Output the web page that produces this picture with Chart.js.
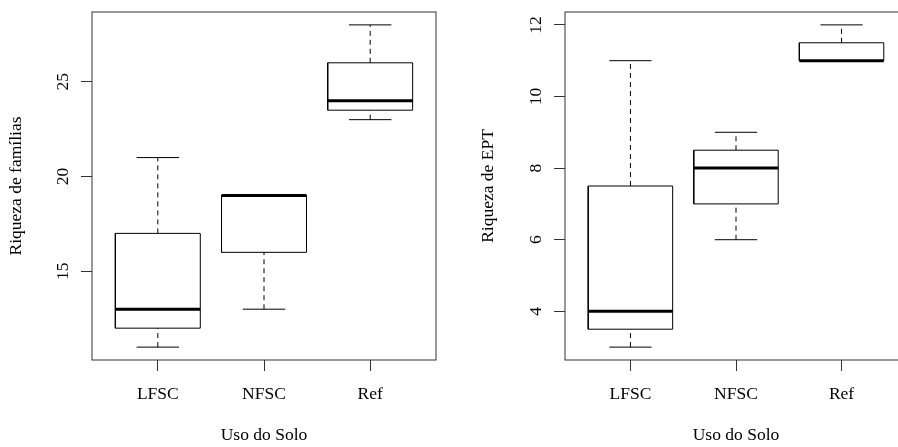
<!DOCTYPE html>
<html><head><meta charset="utf-8">
<script src="https://cdn.jsdelivr.net/npm/chart.js@4/dist/chart.umd.min.js"></script>
<style>
html,body{margin:0;padding:0;background:#fff;overflow:hidden;width:898px;height:447px;}
#c1{position:absolute;left:0;top:0;}
#c2{position:absolute;left:449px;top:0;}
</style></head><body>
<canvas id="c1" width="449" height="447"></canvas>
<canvas id="c2" width="460" height="447"></canvas>
<script>
// ---- data ----
const categories = ['LFSC', 'NFSC', 'Ref'];
const xTicks = [1, 2, 3];
const xLabel = 'Uso do Solo';

// Panel 1: Riqueza de famílias
const yLabelFam = 'Riqueza de famílias';
const famMin    = [11, 13, 23];
const famQ1     = [12, 16, 23.5];
const famMedian = [13, 19, 24];
const famQ3     = [17, 19, 26];
const famMax    = [21, 19, 28];
const famTicks  = [15, 20, 25];

// Panel 2: Riqueza de EPT
const yLabelEpt = 'Riqueza de EPT';
const eptMin    = [3, 6, 11];
const eptQ1     = [3.5, 7, 11];
const eptMedian = [4, 8, 11];
const eptQ3     = [7.5, 8.5, 11.5];
const eptMax    = [11, 9, 12];
const eptTicks  = [4, 6, 8, 10, 12];

// ---- styling ----
const FONT = {family: '"Liberation Serif", "Times New Roman", serif', size: 17.5};
const BOX_HALF = 0.4, CAP_HALF = 0.2;

function boxDatasets(lo, q1, med, q3, hi) {
  const box = [], meds = [], whisk = [], caps = [];
  categories.forEach((c, i) => {
    const x = xTicks[i];
    const gap = {x: x, y: null};
    box.push({x: x - BOX_HALF, y: q1[i]}, {x: x + BOX_HALF, y: q1[i]},
             {x: x + BOX_HALF, y: q3[i]}, {x: x - BOX_HALF, y: q3[i]},
             {x: x - BOX_HALF, y: q1[i]}, gap);
    meds.push({x: x - BOX_HALF, y: med[i]}, {x: x + BOX_HALF, y: med[i]}, gap);
    whisk.push({x: x, y: lo[i]}, {x: x, y: q1[i]}, gap,
               {x: x, y: q3[i]}, {x: x, y: hi[i]}, gap);
    caps.push({x: x - CAP_HALF, y: lo[i]}, {x: x + CAP_HALF, y: lo[i]}, gap,
              {x: x - CAP_HALF, y: hi[i]}, {x: x + CAP_HALF, y: hi[i]}, gap);
  });
  const base = {pointRadius: 0, borderColor: '#000', fill: false, spanGaps: false, tension: 0};
  return [
    Object.assign({}, base, {label: 'whiskers', data: whisk, borderWidth: 1, borderDash: [5, 4]}),
    Object.assign({}, base, {label: 'caps', data: caps, borderWidth: 1}),
    Object.assign({}, base, {label: 'box', data: box, borderWidth: 1, borderJoinStyle: 'miter'}),
    Object.assign({}, base, {label: 'median', data: meds, borderWidth: 3, borderCapStyle: 'butt'})
  ];
}

const framePlugin = {
  id: 'frameAndYLabels',
  afterDraw(chart) {
    const ctx = chart.ctx, a = chart.chartArea, s = chart.scales.y;
    ctx.save();
    ctx.strokeStyle = '#333';
    ctx.lineWidth = 1;
    ctx.strokeRect(a.left, a.top, a.right - a.left, a.bottom - a.top);
    ctx.font = FONT.size + 'px ' + FONT.family;
    ctx.fillStyle = '#000';
    ctx.textAlign = 'center';
    ctx.textBaseline = 'alphabetic';
    s.ticks.forEach(t => {
      const y = s.getPixelForValue(t.value);
      ctx.save();
      ctx.translate(a.left - 24, y);
      ctx.rotate(-Math.PI / 2);
      ctx.fillText(String(t.value), 0, 0);
      ctx.restore();
    });
    ctx.restore();
  }
};

function makeChart(id, lo, q1, med, q3, hi, yTicks, yLabel, yAxisWidth, yTitlePad, padRight) {
  const dataMin = Math.min(...lo), dataMax = Math.max(...hi);
  const yExt = 0.04 * (dataMax - dataMin);
  const xExt = 0.04 * xTicks.length;
  return new Chart(document.getElementById(id), {
    type: 'line',
    data: {datasets: boxDatasets(lo, q1, med, q3, hi)},
    options: {
      responsive: false,
      animation: false,
      devicePixelRatio: 1,
      layout: {padding: {top: 12, right: padRight, bottom: 0, left: 0}},
      plugins: {legend: {display: false}, tooltip: {enabled: false}},
      scales: {
        x: {
          type: 'linear',
          min: 0.5 - xExt, max: xTicks.length + 0.5 + xExt,
          afterBuildTicks: s => { s.ticks = xTicks.map(v => ({value: v})); },
          ticks: {callback: (v, i) => categories[i], font: FONT, color: '#000', padding: 12.6, autoSkip: false, maxRotation: 0},
          grid: {display: true, drawOnChartArea: false, drawTicks: true, tickLength: 11, color: '#333', lineWidth: 1},
          border: {display: false},
          title: {display: true, text: xLabel, font: FONT, color: '#000', padding: {top: 0, bottom: 0.7}},
          afterFit: s => { s.height = 87; }
        },
        y: {
          type: 'linear',
          min: dataMin - yExt, max: dataMax + yExt,
          afterBuildTicks: s => { s.ticks = yTicks.map(v => ({value: v})); },
          ticks: {display: false},
          grid: {display: true, drawOnChartArea: false, drawTicks: true, tickLength: 11, color: '#333', lineWidth: 1},
          border: {display: false},
          title: {display: true, text: yLabel, font: FONT, color: '#000', padding: {top: yTitlePad, bottom: 0}},
          afterFit: s => { s.width = yAxisWidth; }
        }
      }
    },
    plugins: [framePlugin]
  });
}

makeChart('c1', famMin, famQ1, famMedian, famQ3, famMax, famTicks, yLabelFam, 92, 5.6, 13);
makeChart('c2', eptMin, eptQ1, eptMedian, eptQ3, eptMax, eptTicks, yLabelEpt, 116, 28.6, 2);
</script>
</body></html>
